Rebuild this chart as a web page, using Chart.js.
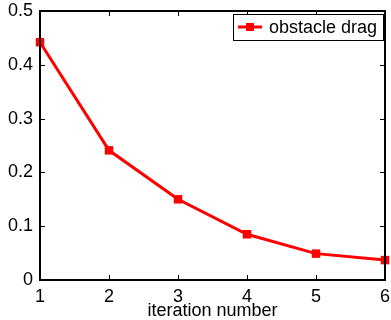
<!DOCTYPE html>
<html><head><meta charset="utf-8">
<script src="https://cdn.jsdelivr.net/npm/chart.js@4/dist/chart.umd.min.js"></script>
<style>html,body{margin:0;padding:0;background:#fff}#wrap{width:391px;height:320px}</style>
</head><body><div id="wrap"><canvas id="c" width="391" height="320"></canvas></div>
<script>
const iterations = [1, 2, 3, 4, 5, 6];
const dragValues = [0.442, 0.241, 0.150, 0.085, 0.049, 0.037];
const xTicks = [1, 2, 3, 4, 5, 6];
const yTicks = [0, 0.1, 0.2, 0.3, 0.4, 0.5];
const seriesLabel = 'obstacle drag';
const xTitle = 'iteration number';

const FONT = "'Liberation Sans', Arial, Helvetica, sans-serif";
const RED = '#ff0000';
const FS = 18;

const boxPlugin = {
  id: 'matlabBox',
  afterDatasetsDraw(chart) {
    const ctx = chart.ctx, a = chart.chartArea;
    const xs = chart.scales.x, ys = chart.scales.y;
    ctx.save();
    ctx.strokeStyle = '#000';
    ctx.lineWidth = 1;
    ctx.beginPath();
    const tl = 5;
    xTicks.forEach(v => {
      const px = Math.round(xs.getPixelForValue(v)) + 0.5;
      ctx.moveTo(px, a.bottom); ctx.lineTo(px, a.bottom - tl);
      ctx.moveTo(px, a.top); ctx.lineTo(px, a.top + tl);
    });
    yTicks.forEach(v => {
      const py = Math.round(ys.getPixelForValue(v)) + 0.5;
      ctx.moveTo(a.left, py); ctx.lineTo(a.left + tl, py);
      ctx.moveTo(a.right, py); ctx.lineTo(a.right - tl, py);
    });
    ctx.stroke();
    ctx.lineWidth = 2;
    ctx.beginPath();
    ctx.rect(a.left, a.top, a.right - a.left, a.bottom - a.top);
    ctx.stroke();
    ctx.restore();
  },
  afterDraw(chart) {
    const ctx = chart.ctx;
    const ds = chart.data.datasets[0];
    ctx.save();
    const bx = 233.5, by = 14.5, bw = 150, bh = 26;
    ctx.fillStyle = '#fff';
    ctx.fillRect(bx, by, bw, bh);
    ctx.strokeStyle = '#000';
    ctx.lineWidth = 1;
    ctx.strokeRect(bx, by, bw, bh);
    const cy = by + bh / 2 - 0.5;
    ctx.strokeStyle = ds.borderColor;
    ctx.lineWidth = ds.borderWidth;
    ctx.beginPath();
    ctx.moveTo(238, cy); ctx.lineTo(262, cy);
    ctx.stroke();
    ctx.fillStyle = ds.pointBackgroundColor;
    const s = 8;
    ctx.fillRect(250 - s / 2, cy - s / 2, s, s);
    ctx.fillStyle = '#000';
    ctx.font = FS + 'px ' + FONT;
    ctx.textBaseline = 'middle';
    ctx.textAlign = 'left';
    ctx.fillText(ds.label, 269, cy + 1);
    ctx.restore();
  }
};

new Chart(document.getElementById('c'), {
  type: 'line',
  data: {
    datasets: [{
      label: seriesLabel,
      data: iterations.map((x, i) => ({ x: x, y: dragValues[i] })),
      borderColor: RED,
      backgroundColor: RED,
      borderWidth: 3,
      pointStyle: 'rect',
      pointRadius: 6,
      pointBackgroundColor: RED,
      pointBorderColor: RED,
      pointBorderWidth: 0,
      tension: 0,
      clip: false
    }]
  },
  options: {
    responsive: false,
    devicePixelRatio: 1,
    animation: false,
    events: [],
    layout: { padding: { left: 0, right: 4, top: 11, bottom: 0 } },
    plugins: { legend: { display: false }, tooltip: { enabled: false } },
    scales: {
      x: {
        type: 'linear', min: 1, max: 6,
        afterBuildTicks: s => { s.ticks = xTicks.map(v => ({ value: v })); },
        afterFit: s => { s.height = 40; s.paddingLeft = 0; s.paddingRight = 0; },
        grid: { display: false, drawTicks: false },
        border: { display: false },
        ticks: { color: '#000', font: { family: FONT, size: FS }, padding: 6, maxRotation: 0, autoSkip: false,
          callback: v => String(v) },
        title: { display: true, text: xTitle, color: '#000', font: { family: FONT, size: FS }, padding: { top: 0, bottom: -2 } }
      },
      y: {
        type: 'linear', min: 0, max: 0.5,
        afterBuildTicks: s => { s.ticks = yTicks.map(v => ({ value: v })); },
        afterFit: s => { s.width = 40; s.paddingTop = 0; s.paddingBottom = 0; },
        grid: { display: false, drawTicks: false },
        border: { display: false },
        ticks: { color: '#000', font: { family: FONT, size: FS }, padding: 7, autoSkip: false,
          callback: v => v === 0 ? '0' : v.toFixed(1) }
      }
    }
  },
  plugins: [boxPlugin]
});
</script>
</body></html>
